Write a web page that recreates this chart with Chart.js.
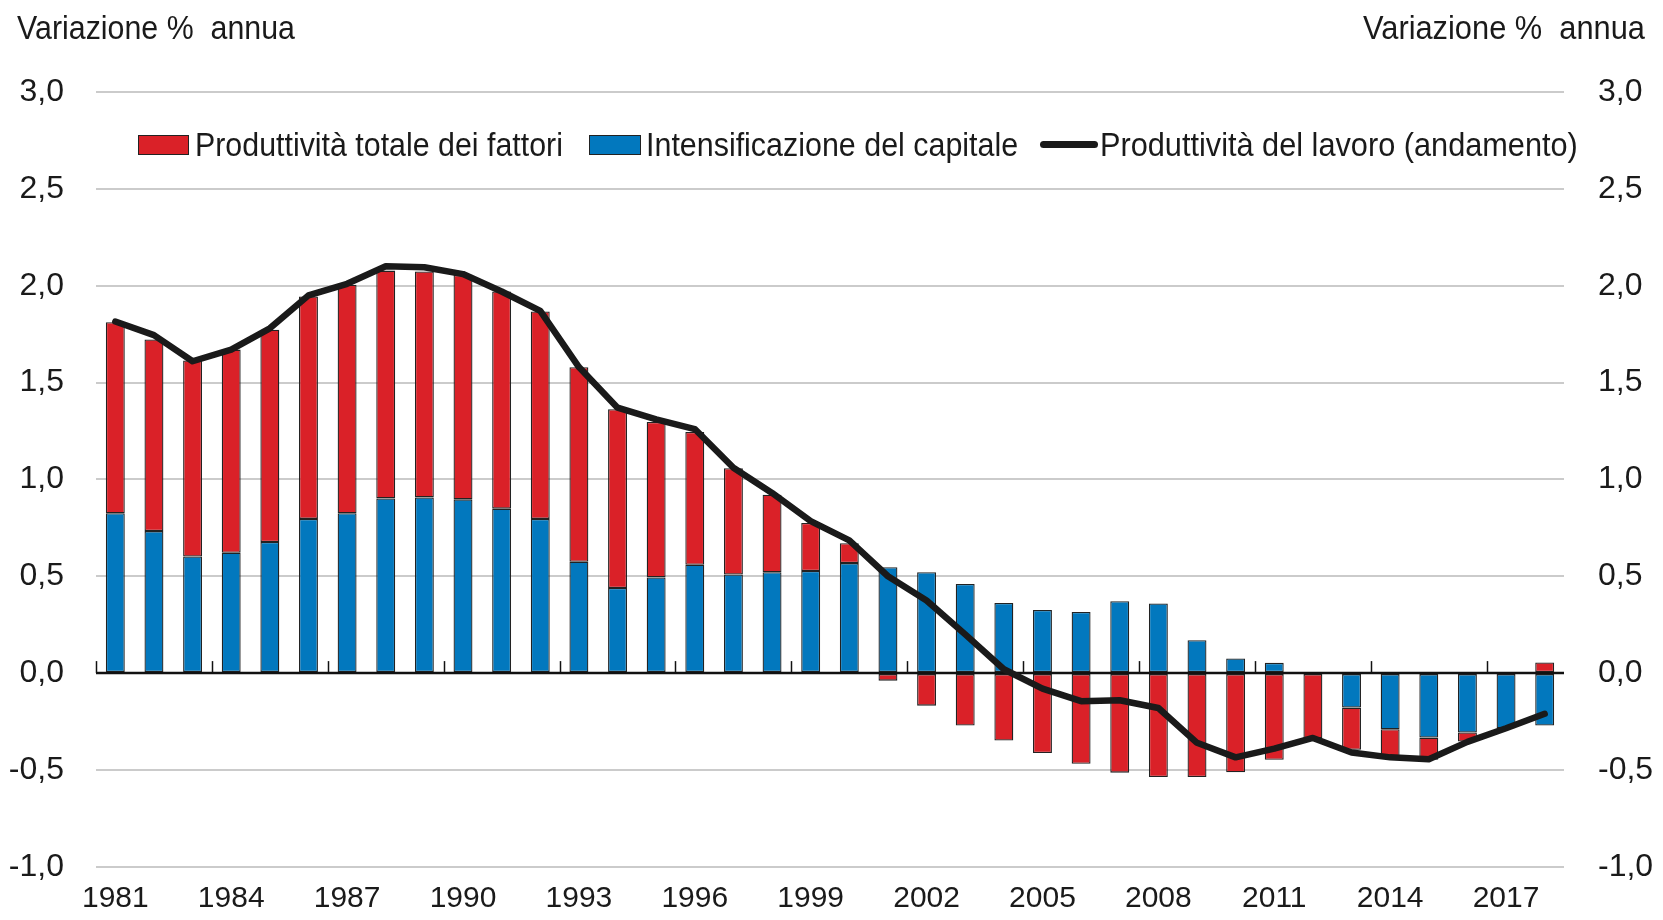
<!DOCTYPE html>
<html>
<head>
<meta charset="utf-8">
<script src="https://cdn.jsdelivr.net/npm/chart.js@4.4.1/dist/chart.umd.min.js"></script>
<style>
    body { margin: 0; background: #fff; }
    #wrap { position: relative; width: 1663px; height: 920px; font-family: "Liberation Sans", Arial, sans-serif; color: #1a1a1a; }
    #wrap canvas { position: absolute; left: 0; top: 0; }
    .txt { position: absolute; font-size: 34px; line-height: 34px; white-space: pre; transform-origin: 0 0; }
    .box { position: absolute; box-sizing: border-box; border: 1px solid #222; }
</style>
</head>
<body>
<div id="wrap">
    <canvas id="mainChart" width="1663" height="920"></canvas>
    <div class="txt" data-w="278" style="left:17px; top:10px;">Variazione %  annua</div>
    <div class="txt" data-w="282" data-right="1645" style="top:10px;">Variazione %  annua</div>

    <!-- legend -->
    <div class="box" style="left:138px; top:135px; width:51px; height:20px; background:#DA2128;"></div>
    <div class="txt" data-w="368" style="left:195px; top:127px;">Produttività totale dei fattori</div>
    <div class="box" style="left:589px; top:135px; width:52px; height:20px; background:#0278BE;"></div>
    <div class="txt" data-w="372" style="left:646px; top:127px;">Intensificazione del capitale</div>
    <div style="position:absolute; left:1040px; top:141px; width:58px; height:7px; border-radius:4px; background:#1a1a1a;"></div>
    <div class="txt" data-w="478" style="left:1100px; top:127px;">Produttività del lavoro (andamento)</div>
</div>

<script>
// Data (% annual change)
const years = ['1981','1982','1983','1984','1985','1986','1987','1988','1989','1990',
               '1991','1992','1993','1994','1995','1996','1997','1998','1999','2000',
               '2001','2002','2003','2004','2005','2006','2007','2008','2009','2010',
               '2011','2012','2013','2014','2015','2016','2017','2018'];

// Intensificazione del capitale (blue, base of the stack)
const capitalDeepening = [0.825, 0.733, 0.602, 0.621, 0.677, 0.796, 0.825, 0.902, 0.907, 0.897,
                          0.849, 0.796, 0.575, 0.439, 0.494, 0.559, 0.509, 0.521, 0.527, 0.568,
                          0.547, 0.521, 0.460, 0.362, 0.326, 0.316, 0.371, 0.359, 0.170, 0.076,
                          0.053, 0.000, -0.178, -0.290, -0.333, -0.307, -0.285, -0.271];

// Produttività totale dei fattori (red)
const tfp = [0.986, 0.989, 1.012, 1.049, 1.096, 1.148, 1.180, 1.176, 1.166, 1.159,
             1.121, 1.071, 1.004, 0.923, 0.802, 0.686, 0.549, 0.400, 0.248, 0.103,
             -0.039, -0.168, -0.271, -0.348, -0.413, -0.468, -0.514, -0.537, -0.537, -0.512,
             -0.447, -0.336, -0.218, -0.150, -0.114, -0.046, 0.005, 0.055];

// Produttività del lavoro (andamento) (black line)
const labourProductivity = [1.815, 1.745, 1.610, 1.670, 1.780, 1.950, 2.010, 2.100, 2.095, 2.060,
                            1.970, 1.870, 1.580, 1.370, 1.310, 1.260, 1.060, 0.930, 0.785, 0.685,
                            0.500, 0.375, 0.200, 0.020, -0.080, -0.145, -0.140, -0.180, -0.360, -0.435,
                            -0.390, -0.335, -0.410, -0.435, -0.445, -0.355, -0.285, -0.210];

const yTicks = { min: -1, max: 3, step: 0.5 };
const labelEvery = 3;

Chart.defaults.font.family = '"Liberation Sans", Arial, sans-serif';
Chart.defaults.color = '#1a1a1a';

// no narrow font installed: squeeze the html labels to the widths seen in the original
document.querySelectorAll('.txt[data-w]').forEach(el => {
    const w = el.getBoundingClientRect().width;
    const k = (+el.dataset.w) / w;
    if (el.dataset.right) {
        el.style.left = (+el.dataset.right - +el.dataset.w) + 'px';
    }
    el.style.transform = 'scaleX(' + k.toFixed(3) + ')';
});

const fmt = v => v.toFixed(1).replace('.', ',');

// zero line + small upward ticks every 3 years, drawn over the bars
const zeroAxisPlugin = {
    id: 'zeroAxis',
    afterDatasetDraw(chart, args) {
        if (args.index !== 0) return;   // blue is drawn last of the bars
        const { ctx, chartArea, scales } = chart;
        const y0 = scales.y.getPixelForValue(0);
        const half = (scales.x.getPixelForValue(1) - scales.x.getPixelForValue(0)) / 2;
        ctx.save();
        ctx.strokeStyle = '#111';
        ctx.lineWidth = 2.5;
        ctx.beginPath();
        ctx.moveTo(chartArea.left, y0);
        ctx.lineTo(chartArea.right, y0);
        ctx.stroke();
        ctx.lineWidth = 1.5;
        for (let i = 0; i < years.length; i += labelEvery) {
            const x = Math.round(scales.x.getPixelForValue(i) - half) + 0.5;
            ctx.beginPath();
            ctx.moveTo(x, y0);
            ctx.lineTo(x, y0 - 12);
            ctx.stroke();
        }
        ctx.restore();
    }
};

const ctx = document.getElementById('mainChart').getContext('2d');
new Chart(ctx, {
    type: 'bar',
    data: {
        labels: years,
        datasets: [
            {
                label: 'Intensificazione del capitale',
                data: capitalDeepening,
                backgroundColor: '#0278BE',
                borderColor: '#222',
                borderWidth: 1.3,
                borderSkipped: false,
                barPercentage: 0.49,
                categoryPercentage: 1,
                stack: 's',
                order: 1
            },
            {
                label: 'Produttività totale dei fattori',
                data: tfp,
                backgroundColor: '#DA2128',
                borderColor: '#222',
                borderWidth: 1.3,
                borderSkipped: false,
                barPercentage: 0.49,
                categoryPercentage: 1,
                stack: 's',
                order: 2
            },
            {
                type: 'line',
                label: 'Produttività del lavoro (andamento)',
                data: labourProductivity,
                borderColor: '#1a1a1a',
                borderWidth: 6.5,
                pointRadius: 0,
                tension: 0,
                borderCapStyle: 'round',
                borderJoinStyle: 'round',
                order: 0
            }
        ]
    },
    plugins: [zeroAxisPlugin],
    options: {
        responsive: false,
        animation: false,
        devicePixelRatio: 1,
        layout: { padding: { top: 92, left: 0, right: 0, bottom: 0 } },
        plugins: {
            legend: { display: false },
            title: { display: false },
            tooltip: { enabled: false }
        },
        scales: {
            x: {
                stacked: true,
                offset: true,
                grid: { display: false, drawTicks: false },
                border: { display: false },
                ticks: {
                    autoSkip: false,
                    maxRotation: 0,
                    padding: 14,
                    font: { size: 30 },
                    callback: (v, i) => (i % labelEvery === 0 ? years[i] : '')
                },
                afterFit: s => { s.height = 50; }
            },
            y: {
                stacked: true,
                position: 'left',
                min: yTicks.min,
                max: yTicks.max,
                grid: { color: '#cbcbcb', lineWidth: 2, drawTicks: false },
                border: { display: false },
                ticks: { stepSize: yTicks.step, padding: 32, font: { size: 32 }, callback: fmt },
                afterFit: s => { s.width = 96; }
            },
            y2: {
                position: 'right',
                min: yTicks.min,
                max: yTicks.max,
                grid: { display: false, drawTicks: false },
                border: { display: false },
                ticks: { stepSize: yTicks.step, padding: 34, font: { size: 32 }, callback: fmt },
                afterFit: s => { s.width = 99; }
            }
        }
    }
});
</script>
</body>
</html>
